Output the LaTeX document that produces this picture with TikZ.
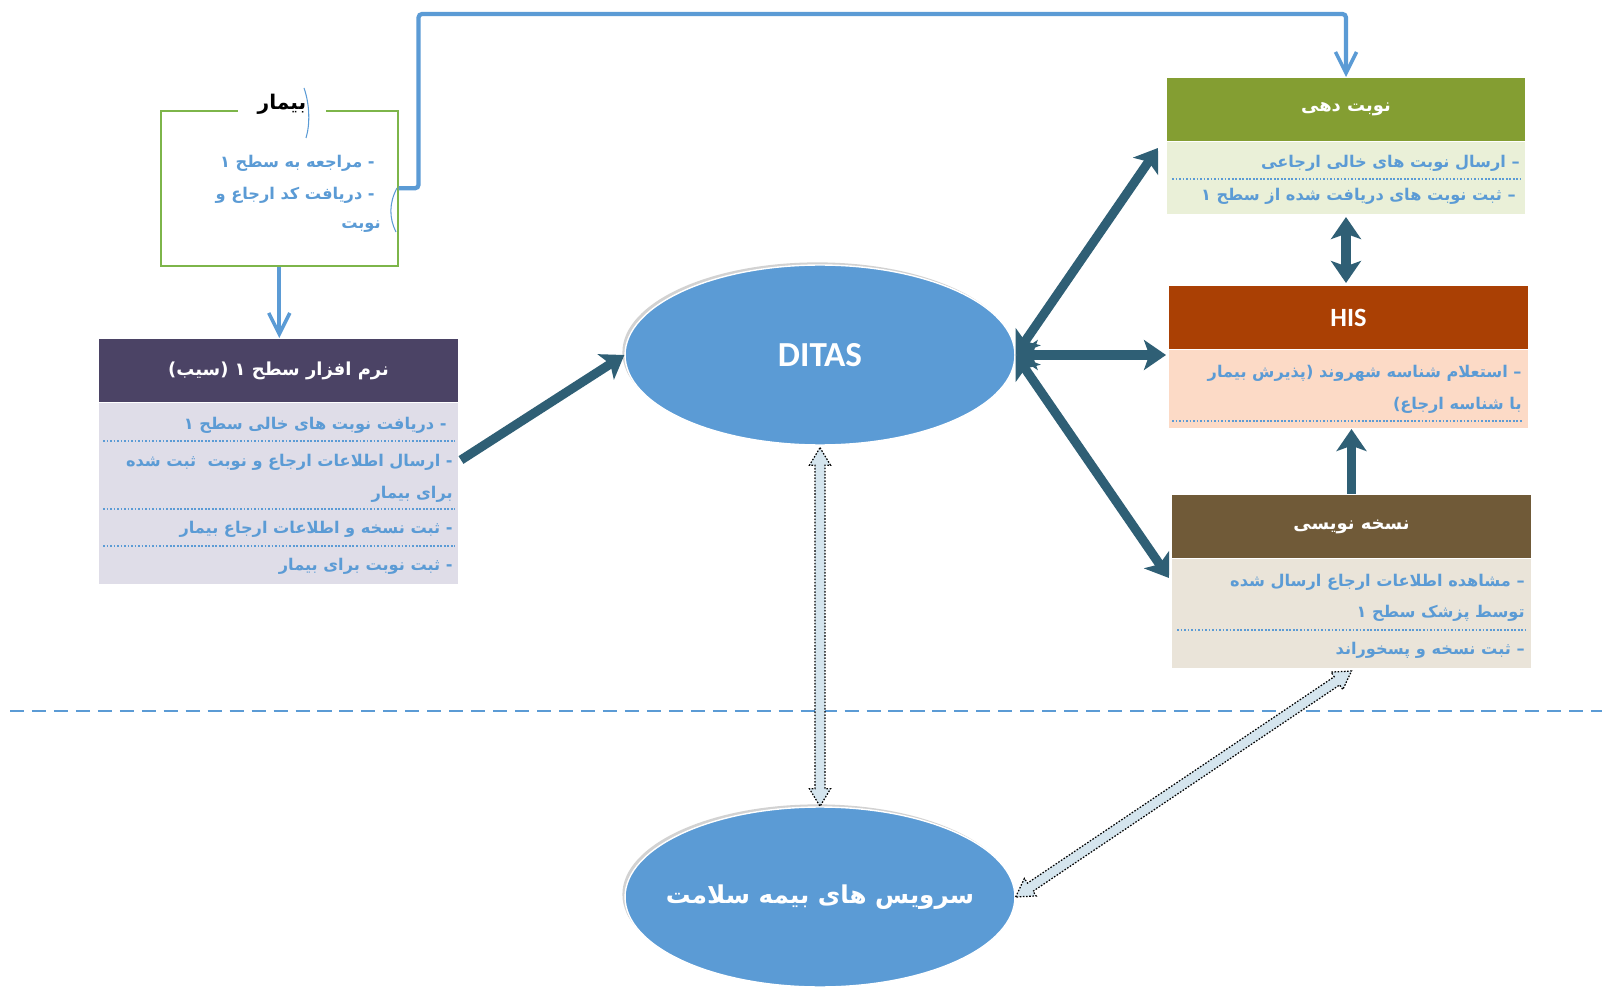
\documentclass[tikz,border=0pt]{standalone}
\usepackage{fontspec}
\setmainfont{Carlito}
\newfontfamily\fa[Script=Arabic]{DejaVu Sans}
\TeXXeTstate=1
\usetikzlibrary{calc,arrows.meta,shapes.geometric,shadows}
\newcommand\RR[1]{{\fa\beginR #1\endR}}
\definecolor{cBlue}{HTML}{5B9BD5}
\definecolor{cTeal}{HTML}{2F5F75}
\definecolor{cLight}{HTML}{D5E5EE}
\definecolor{cPurH}{HTML}{4B4365}
\definecolor{cPurB}{HTML}{DFDDE8}
\definecolor{cGrnH}{HTML}{849E32}
\definecolor{cGrnB}{HTML}{EAF0D8}
\definecolor{cRstH}{HTML}{AA4004}
\definecolor{cRstB}{HTML}{FCDAC6}
\definecolor{cBrnH}{HTML}{705A38}
\definecolor{cBrnB}{HTML}{EAE4D9}
\definecolor{cPatG}{HTML}{7DB54A}
\newcommand\fatdot[2]{%
  \coordinate (fh1) at ($(#1)!10pt!(#2)$);
  \coordinate (fh2) at ($(#2)!10pt!(#1)$);
  \filldraw[fill=cLight, draw=black, line width=0.7pt, dash pattern=on 0.9pt off 0.9pt]
    (#1) -- ($(fh1)!6pt!90:(#2)$) -- ($(fh1)!2.8pt!90:(#2)$)
    -- ($(fh2)!2.8pt!-90:(#1)$) -- ($(fh2)!6pt!-90:(#1)$) -- (#2)
    -- ($(fh2)!6pt!90:(#1)$) -- ($(fh2)!2.8pt!90:(#1)$)
    -- ($(fh1)!2.8pt!-90:(#2)$) -- ($(fh1)!6pt!-90:(#2)$) -- cycle;}
\begin{document}
\begin{tikzpicture}[x=0.02cm,y=-0.02cm,
  box/.style={anchor=north west, inner sep=0pt, draw=white, line width=0.6pt},
  hdr/.style={box, text=white, font=\fontsize{10.2}{13}\selectfont\bfseries},
  body/.style={anchor=east, inner sep=0pt, text=cBlue, font=\fontsize{9.2}{12}\selectfont\bfseries},
  sep/.style={cBlue, line width=0.7pt, dash pattern=on 1pt off 1pt},
  tarr/.style={draw=cTeal, line width=5.2pt},
  thead/.style={-{Stealth[length=12.5pt,width=17pt,inset=3pt]}},
  tboth/.style={{Stealth[length=12.5pt,width=17pt,inset=3pt]}-{Stealth[length=12.5pt,width=17pt,inset=3pt]}},
  barr/.style={draw=cBlue, line width=2.4pt, rounded corners=2pt, -{Straight Barb[length=12pt,width=12pt,line width=2pt]}},
  oval/.style={ellipse, fill=cBlue, draw=white, line width=0.8pt, inner sep=0pt,
    minimum width=7.8cm, minimum height=3.6cm,
    drop shadow={shadow xshift=-1.5pt, shadow yshift=1.5pt, opacity=0.35}},
  ovaltext/.style={text=white, inner sep=0pt}]
\fill[white] (0,0) rectangle (1602,1006);

% divider
\draw[cBlue, line width=0.9pt, dash pattern=on 8pt off 4.5pt] (10,711) -- (1602,711);

% patient box
\node[box, draw=cPatG, line width=0.9pt, minimum width=4.74cm, minimum height=3.1cm] (pat) at (160,110) {};
\node[fill=white, inner xsep=11pt, inner ysep=1pt, font=\fontsize{11.5}{13}\selectfont\bfseries] (patT) at (282,104) {\RR{بیمار}};
\draw[cBlue, line width=0.6pt] (304,88) .. controls (310,105) and (310,125) .. (306,138);
\draw[cBlue, line width=0.6pt] (397,188) .. controls (389,203) and (389,218) .. (396,232);
\node[body] (p1) at (375,163) {\RR{- مراجعه به سطح ۱}};
\node[body] (p2) at (375,195) {\RR{- دریافت کد ارجاع و}};
\node[body] (p3) at (381,227) {\RR{نوبت}};

% left box
\node[hdr, fill=cPurH, minimum width=7.2cm, minimum height=1.28cm] (slh) at (98,338) {\RR{نرم افزار سطح ۱ (سیب)}};
\node[box, fill=cPurB, minimum width=7.2cm, minimum height=3.64cm] (slb) at (98,402) {};
\node[body] (s1) at (447,425) {\RR{- دریافت نوبت های خالی سطح ۱}};
\node[body] (s2) at (453,462) {\RR{- ارسال اطلاعات ارجاع و نوبت \ ثبت شده}};
\node[body] (s3) at (453,494) {\RR{برای بیمار}};
\node[body] (s4) at (453,529) {\RR{- ثبت نسخه و اطلاعات ارجاع بیمار}};
\node[body] (s5) at (453,566) {\RR{- ثبت نوبت برای بیمار}};
\draw[sep] (103,441) -- (455,441);
\draw[sep] (103,509) -- (455,509);
\draw[sep] (103,546) -- (455,546);

% nobat dahi
\node[hdr, fill=cGrnH, minimum width=7.18cm, minimum height=1.28cm] (ndh) at (1166,77) {\RR{نوبت دهی}};
\node[box, fill=cGrnB, minimum width=7.18cm, minimum height=1.46cm] (ndb) at (1166,141) {};
\node[body] (n1) at (1520,163) {\RR{– ارسال نوبت های خالی ارجاعی}};
\node[body] (n2) at (1516,196) {\RR{– ثبت نوبت های دریافت شده از سطح ۱}};
\draw[sep] (1172,179) -- (1520,179);

% HIS
\node[hdr, fill=cRstH, minimum width=7.2cm, minimum height=1.28cm, font=\fontsize{15}{17}\selectfont\bfseries] (hish) at (1168,285) {HIS};
\node[box, fill=cRstB, minimum width=7.2cm, minimum height=1.58cm] (hisb) at (1168,349) {};
\node[body] (h1) at (1522,373) {\RR{– استعلام شناسه شهروند (پذیرش بیمار}};
\node[body] (h2) at (1522,405) {\RR{با شناسه ارجاع)}};
\draw[sep] (1172,421) -- (1522,421);

% noskhe nevisi
\node[hdr, fill=cBrnH, minimum width=7.2cm, minimum height=1.28cm] (nnh) at (1171,494) {\RR{نسخه نویسی}};
\node[box, fill=cBrnB, minimum width=7.2cm, minimum height=2.2cm] (nnb) at (1171,558) {};
\node[body] (k1) at (1525,582) {\RR{– مشاهده اطلاعات ارجاع ارسال شده}};
\node[body] (k2) at (1525,613) {\RR{توسط پزشک سطح ۱}};
\node[body] (k3) at (1525,650) {\RR{– ثبت نسخه و پسخوراند}};
\draw[sep] (1177,630) -- (1525,630);

% ellipses
\node[oval] (ditas) at (820,355) {};
\node[ovaltext, font=\fontsize{20}{22}\selectfont\bfseries] (ditasT) at (ditas.center) {DITAS};
\node[oval] (bime) at (820,897) {};
\node[ovaltext, font=\fontsize{14}{16}\selectfont\bfseries] (bimeT) at (bime.center) {\RR{سرویس های بیمه سلامت}};

% blue connectors from patient
\draw[barr] (pat.east) -- ++(20,0) |- (ndh.north |- 0,14) -- (ndh.north);
\draw[barr] (pat.south) -- (pat.south |- slh.north);

% teal arrows
\draw[tarr, thead] ($(slb.north east)+(2,58)$) -- (ditas.west);
\draw[tarr, tboth] (ditas.east) -- ($(ndb.north west)+(-8,7)$);
\draw[tarr, tboth] (ditas.east) -- ($(hisb.north west)+(-2,6)$);
\draw[tarr, tboth] (ditas.east) -- ($(nnb.north west)+(-2,20)$);
\draw[tarr, tboth] ($(ndb.south)+(0,2)$) -- ($(ndb.south |- hish.north)+(0,-2)$);
\draw[tarr, thead] (nnh.north) -- (nnh.north |- hisb.south);

% dotted fat arrows
\coordinate (d1) at ($(ditas.south)+(0,2)$);
\coordinate (d2) at ($(bime.north)+(0,0)$);
\fatdot{d1}{d2}
\coordinate (e1) at ($(bime.east)+(0,0)$);
\coordinate (e2) at ($(nnb.south)+(0,2)$);
\fatdot{e1}{e2}

\pgfresetboundingbox
\path[use as bounding box] (0,0) rectangle (1602,1006);
\end{tikzpicture}
\end{document}
